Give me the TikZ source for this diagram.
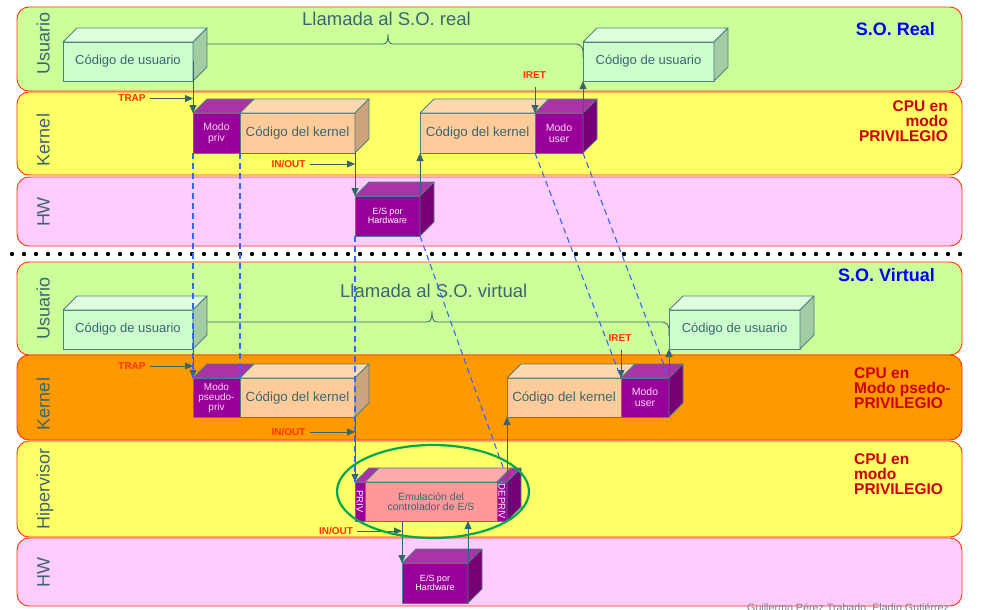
\documentclass[tikz,border=0pt]{standalone}
\usepackage{fontspec}
\setmainfont{Liberation Sans}
\usetikzlibrary{arrows.meta,shapes.geometric}
\definecolor{bandred}{HTML}{FF3300}
\definecolor{ugreen}{HTML}{CCFF99}
\definecolor{kyellow}{HTML}{FFFF66}
\definecolor{hwpink}{HTML}{FFCCFF}
\definecolor{korange}{HTML}{FF9900}
\definecolor{edge}{HTML}{4D7F80}
\definecolor{arrc}{HTML}{336666}
\definecolor{txt}{HTML}{3A6670}
\definecolor{ufront}{HTML}{CCFFCC}
\definecolor{utop}{HTML}{DDFFDD}
\definecolor{uside}{HTML}{A3CCA3}
\definecolor{kfront}{HTML}{FFCC99}
\definecolor{ktop}{HTML}{FFD9AD}
\definecolor{kside}{HTML}{CCA37A}
\definecolor{pfront}{HTML}{990099}
\definecolor{ptop}{HTML}{AA33AA}
\definecolor{pside}{HTML}{770077}
\definecolor{efront}{HTML}{FF9999}
\definecolor{etop}{HTML}{FFAAAA}
\definecolor{dashc}{HTML}{3366FF}
\definecolor{lblred}{HTML}{FF3300}
\definecolor{cpured}{HTML}{CC0000}
\definecolor{soblue}{HTML}{0000FF}
\definecolor{ellg}{HTML}{00A651}
\definecolor{modotxt}{HTML}{F8D8F8}
\definecolor{foottxt}{HTML}{708090}
\newcommand\boxtop[2]{\filldraw[faceline, fill=#2] (#1.north west) -- ++(14,-14) -- ([shift={(14,-14)}]#1.north east) -- (#1.north east) -- cycle;}
\newcommand\boxside[2]{\filldraw[faceline, fill=#2] (#1.north east) -- ++(14,-14) -- ([shift={(14,-14)}]#1.south east) -- (#1.south east) -- cycle;}
\tikzset{
 band/.style={draw=bandred, line width=0.9pt, rounded corners=12pt},
 bandlbl/.style={rotate=90, anchor=base, text=txt, font=\fontsize{18}{18}\selectfont, inner sep=0pt},
 faceline/.style={draw=edge, line width=0.8pt, line join=round},
 front/.style={faceline, inner sep=0pt, outer sep=0pt, anchor=north west, align=center},
 ubox/.style={front, fill=ufront, text=txt, font=\fontsize{13}{13}\selectfont},
 kbox/.style={front, fill=kfront, text=txt, font=\fontsize{13.3}{13}\selectfont},
 pbox/.style={front, fill=pfront, text=modotxt, font=\fontsize{10.5}{11}\selectfont},
 hbox/.style={front, fill=pfront, text=white, font=\fontsize{9}{9.5}\selectfont},
 ebox/.style={front, fill=efront, text=txt, font=\fontsize{10.5}{10.5}\selectfont},
 arr/.style={draw=arrc, line width=0.8pt, -{Triangle[length=8pt,width=7pt]}},
 brc/.style={draw=arrc, line width=0.8pt},
 lbl/.style={text=lblred, font=\bfseries\fontsize{10}{10}\selectfont, inner sep=0pt},
 dsh/.style={draw=dashc, line width=1.1pt, dash pattern=on 6pt off 4pt},
 cpu/.style={text=cpured, font=\bfseries\fontsize{15.5}{15}\selectfont, inner sep=0pt},
 so/.style={text=soblue, font=\bfseries\fontsize{18}{18}\selectfont, inner sep=0pt},
 title/.style={text=txt, font=\fontsize{18.5}{18.5}\selectfont, inner sep=0pt, anchor=base west},
 vtext/.style={rotate=-90, text=white, font=\fontsize{9.5}{9.5}\selectfont, inner sep=0pt},
}
\begin{document}
\begin{tikzpicture}[x=1pt,y=-1pt]
\useasboundingbox (0,0) rectangle (993,610);
\fill[white] (0,0) rectangle (993,610);
% bands top
\filldraw[band, fill=ugreen] (17,7) rectangle (962,91);
\filldraw[band, fill=kyellow] (17,92) rectangle (962,175);
\filldraw[band, fill=hwpink] (17,177) rectangle (962,246);
% bands bottom
\filldraw[band, fill=ugreen] (17,262) rectangle (962,355);
\filldraw[band, fill=korange] (17,355) rectangle (962,440);
\filldraw[band, fill=kyellow] (17,441) rectangle (962,537);
\filldraw[band, fill=hwpink] (17,538) rectangle (962,606);
% separator
\foreach \i in {0,...,79} \fill (12+12*\i,254) circle (2.2pt);
% band labels
\node[bandlbl] (lu1) at (49.5,43.5) {Usuario};
\node[bandlbl] (lk1) at (49.5,140) {Kernel};
\node[bandlbl] (lh1) at (49.5,212) {HW};
\node[bandlbl] (lu2) at (49.5,308.5) {Usuario};
\node[bandlbl] (lk2) at (49.5,404) {Kernel};
\node[bandlbl] (lv2) at (49.5,489) {Hipervisor};
\node[bandlbl] (lh2) at (49.5,572) {HW};
% titles
\node[title] (t1) at (302,26) {Llamada al S.O. real};
\node[title] (t2) at (340,297) {Llamada al S.O. virtual};
\node[so, anchor=north east] (so1) at (935,22) {S.O. Real};
\node[so, anchor=north east] (so2) at (935,268) {S.O. Virtual};
\node[cpu, align=right, anchor=north east] (cpu1) at (948,100) {CPU en\\modo\\PRIVILEGIO};
\node[cpu, align=left, anchor=north west] (cpu2) at (854,367) {CPU en\\Modo psedo-\\PRIVILEGIO};
\node[cpu, align=left, anchor=north west] (cpu3) at (854,453) {CPU en\\modo\\PRIVILEGIO};
% braces
\draw[brc, rounded corners=7pt] (193,58) |- (383,44);
\draw[brc] (383,44) .. controls (387,44) and (388,41) .. (388,34) .. controls (388,41) and (389,44) .. (393,44);
\draw[brc, rounded corners=7pt] (393,44) -| (583,58);
\draw[brc, rounded corners=7pt] (193,336) |- (427,322);
\draw[brc] (427,322) .. controls (431,322) and (432,318) .. (432,311) .. controls (432,318) and (433,322) .. (437,322);
\draw[brc, rounded corners=7pt] (437,322) -| (669,336);
% top boxes
\node[ubox, minimum width=130pt, minimum height=39pt] (u1) at (63,42) {Código de usuario};
\boxtop{u1}{utop}\boxside{u1}{uside}
\node[ubox, minimum width=131pt, minimum height=39pt] (u2) at (583,42) {Código de usuario};
\boxtop{u2}{utop}\boxside{u2}{uside}
\node[pbox, minimum width=47pt, minimum height=40pt] (mp) at (193,113) {Modo\\priv};
\node[kbox, minimum width=115pt, minimum height=40pt] (kl) at (240,113) {Código del kernel};
\boxtop{mp}{ptop}\boxtop{kl}{ktop}\boxside{kl}{kside}
\node[kbox, minimum width=115pt, minimum height=40pt] (kr) at (420,113) {Código del kernel};
\node[pbox, minimum width=48pt, minimum height=40pt] (mu) at (535,113) {Modo\\user};
\boxtop{kr}{ktop}\boxtop{mu}{ptop}\boxside{mu}{pside}
\node[hbox, minimum width=65pt, minimum height=40pt] (es1) at (355,196) {E/S por\\Hardware};
\boxtop{es1}{ptop}\boxside{es1}{pside}
% bottom boxes
\node[ubox, minimum width=130pt, minimum height=39pt] (u3) at (63,310) {Código de usuario};
\boxtop{u3}{utop}\boxside{u3}{uside}
\node[ubox, minimum width=131pt, minimum height=39pt] (u4) at (669,310) {Código de usuario};
\boxtop{u4}{utop}\boxside{u4}{uside}
\node[pbox, font=\fontsize{10}{10}\selectfont, minimum width=47pt, minimum height=39pt] (mpb) at (193,378) {Modo\\pseudo-\\priv};
\node[kbox, minimum width=115pt, minimum height=39pt] (kb) at (240,378) {Código del kernel};
\boxtop{mpb}{ptop}\boxtop{kb}{ktop}\boxside{kb}{kside}
\node[kbox, minimum width=114pt, minimum height=39pt] (krb) at (507,378) {Código del kernel};
\node[pbox, minimum width=48pt, minimum height=39pt] (mub) at (621,378) {Modo\\user};
\boxtop{krb}{ktop}\boxtop{mub}{ptop}\boxside{mub}{pside}
\node[front, fill=pfront, minimum width=10pt, minimum height=39pt] (priv) at (355,482) {};
\node[ebox, minimum width=132pt, minimum height=39pt] (emu) at (365,482) {Emulación del\\controlador de E/S};
\node[front, fill=pfront, minimum width=10pt, minimum height=39pt] (depriv) at (497,482) {};
\boxtop{priv}{ptop}\boxtop{emu}{etop}\boxtop{depriv}{ptop}\boxside{depriv}{pside}
\node[vtext] (privt) at (priv.center) {PRIV};
\node[vtext] (deprivt) at (depriv.center) {DEPRIV};
\node[hbox, minimum width=66pt, minimum height=40pt] (es2) at (402,563) {E/S por\\Hardware};
\boxtop{es2}{ptop}\boxside{es2}{pside}
% labels
\node[lbl] (trap1) at (132,98.5) {TRAP};
\node[lbl] (io1) at (288.5,164) {IN/OUT};
\node[lbl] (iret1) at (534.5,75) {IRET};
\node[lbl] (trap2) at (132,366) {TRAP};
\node[lbl] (io2) at (288.5,432) {IN/OUT};
\node[lbl] (io3) at (336,531) {IN/OUT};
\node[lbl] (iret2) at (620,338) {IRET};
% arrows top
\draw[arr, shorten <=4pt] (trap1.east) -- (trap1.east -| mp.west);
\draw[arr] (u1.east) -- (mp.north west);
\draw[arr, shorten <=4pt] (io1.east) -- (io1.east -| kl.east);
\draw[arr] (kl.south east) -- (es1.north west);
\draw[arr] (es1.north east) -- (kr.south west);
\draw[arr, shorten <=8pt] (iret1.south -| mu.west) -- (mu.north west);
\draw[arr] (mu.north east) -- (u2.south west);
% arrows bottom
\draw[arr, shorten <=4pt] (trap2.east) -- (trap2.east -| mpb.west);
\draw[arr] (u3.east) -- (mpb.north west);
\draw[arr, shorten <=4pt] (io2.east) -- (io2.east -| kb.east);
\draw[arr] (kb.south east) -- (priv.north west);
\draw[arr] (depriv.north east) -- (krb.south west);
\draw[arr, shorten <=4pt] (io3.east) -- (io3.east -| es2.west);
\draw[arr] (es2.north west |- emu.south) -- (es2.north west);
\draw[arr] (es2.north east) -- (es2.north east |- emu.south);
\draw[arr, shorten <=8pt] (iret2.south -| mub.west) -- (mub.north west);
\draw[arr] (mub.north east) -- (u4.south west);
% dashed links
\draw[dsh] (mp.south west) -- (mpb.north west);
\draw[dsh] (mp.south east) -- (mpb.north east);
\draw[dsh] (es1.south west) -- (priv.north west);
\draw[dsh] (es1.south east) -- ([shift={(7,-12)}]depriv.north west);
\draw[dsh] (mu.south west) -- (mub.north west);
\draw[dsh] (mu.south east) -- (mub.north east);
% ellipse
\node[draw=ellg, line width=2.2pt, ellipse, minimum width=192pt, minimum height=93pt, inner sep=0pt] (ell) at (433,491.5) {};
% footer (cut off by the page edge, as in the reference)
\node[anchor=base west, text=foottxt, font=\fontsize{10.7}{11}\selectfont, inner sep=0pt] (foot) at (747,611) {Guillermo Pérez Trabado, Eladio Gutiérrez};
\end{tikzpicture}
\end{document}
